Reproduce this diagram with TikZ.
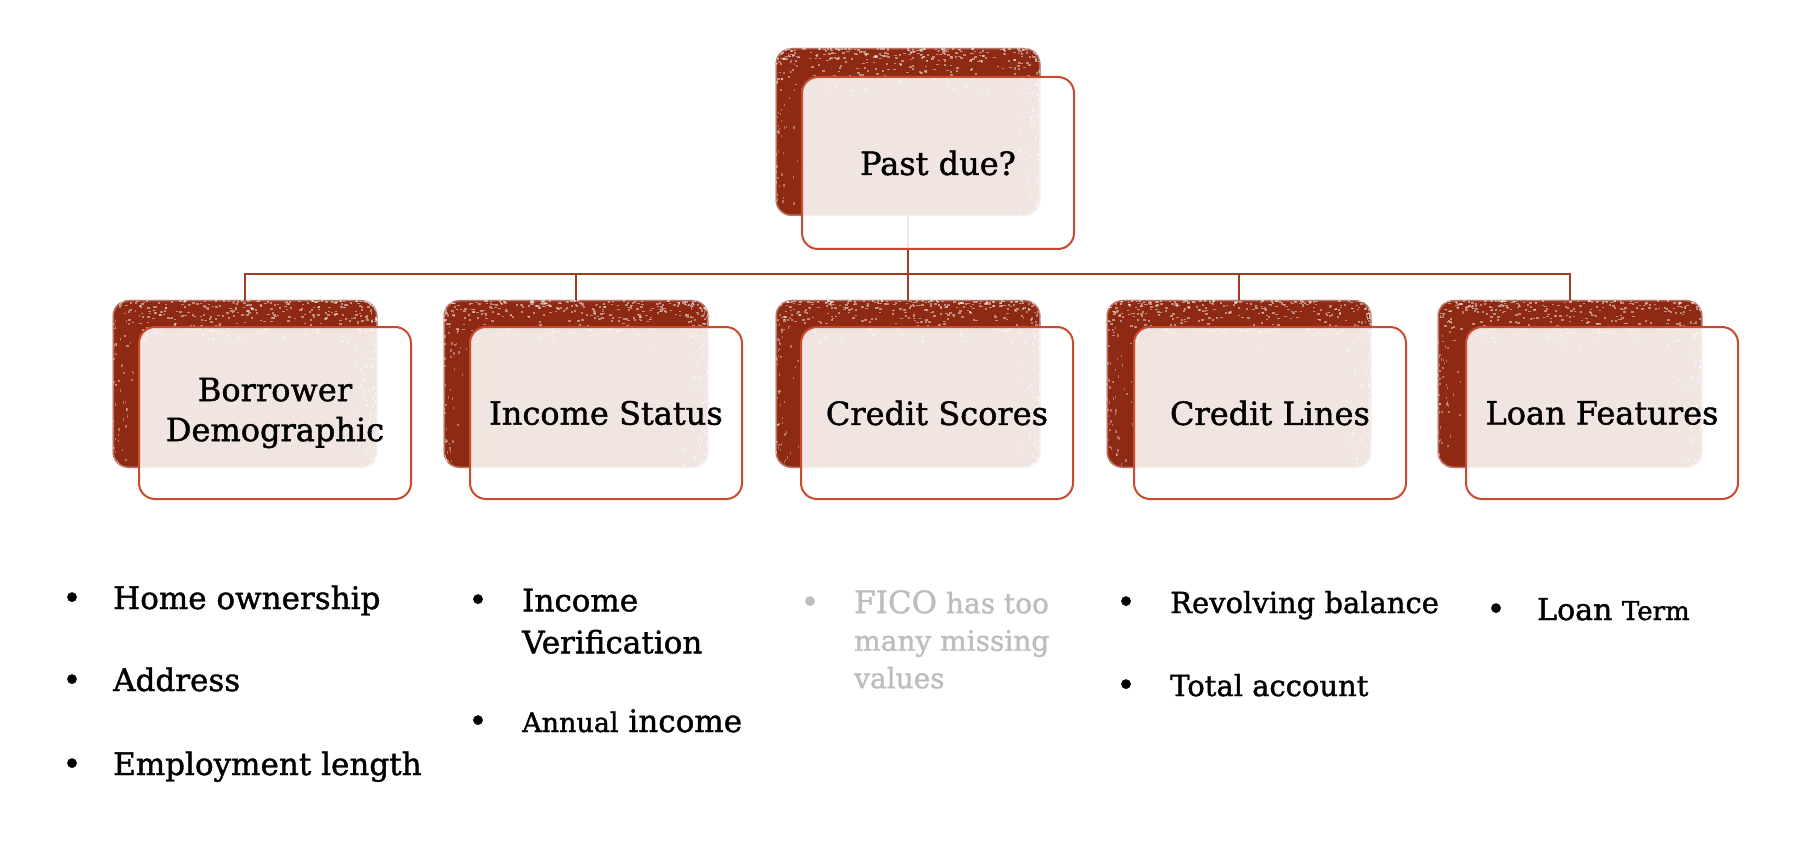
\documentclass[tikz,border=0pt]{standalone}
\usepackage{fontspec}
\setmainfont{DejaVu Serif}[FakeBold=1.3]

\definecolor{rust}{HTML}{8E2A14}
\definecolor{edge}{HTML}{C94A2E}
\definecolor{wire}{HTML}{A33B22}
\definecolor{muted}{HTML}{BDBDBD}

\tikzset{
  backcard/.style={rounded corners=16pt, fill=rust, draw=none, inner sep=0pt,
    minimum width=265pt, minimum height=168pt},
  frontcard/.style={rounded corners=16pt, draw=edge, line width=2pt,
    fill=white, fill opacity=0.88, text opacity=1, inner sep=0pt,
    minimum width=272pt, minimum height=172pt, align=center,
    font=\fontsize{32}{40}\selectfont},
  link/.style={draw=wire, line width=2.7pt},
  bulletdot/.style={anchor=base, inner sep=0pt, font=\fontsize{32}{36}\selectfont},
  itemtext/.style={anchor=base west, inner sep=0pt, align=left,
    font=\fontsize{31}{42}\selectfont},
  itemblock/.style={itemtext, anchor=north west},
}

% worn speckles over a back card whose top-left corner is (#1,#2)
\newcommand{\grunge}[2]{%
  \begin{scope}
    \clip[rounded corners=16pt] (#1,#2) rectangle ++(265,168);
    \foreach \k in {1,...,300}{%
      \pgfmathsetmacro{\gx}{rnd}\pgfmathsetmacro{\gy}{rnd*rnd}%
      \fill[white, opacity=0.45] ({#1+265*\gx},{#2+50*\gy}) rectangle ++(2.4,1.6);
    }
    \foreach \k in {1,...,100}{%
      \pgfmathsetmacro{\gx}{rnd*rnd}\pgfmathsetmacro{\gy}{rnd}%
      \fill[white, opacity=0.4] ({#1+265-30*\gx},{#2+168*\gy}) rectangle ++(1.6,2.6);
    }
    \foreach \k in {1,...,50}{%
      \pgfmathsetmacro{\gx}{rnd*rnd}\pgfmathsetmacro{\gy}{rnd}%
      \fill[white, opacity=0.35] ({#1+28*\gx},{#2+168*\gy}) rectangle ++(1.4,2.4);
    }
    \draw[white, opacity=0.35, line width=3pt, rounded corners=16pt]
      (#1,#2) rectangle ++(265,168);
  \end{scope}}

\begin{document}
\begin{tikzpicture}[x=1pt, y=-1pt]
\useasboundingbox (0,0) rectangle (1820,842);
\pgfmathsetseed{11}

% back cards
\node[backcard] (rootback) at (908,132) {};
\node[backcard] (b1back) at (245,384) {};
\node[backcard] (b2back) at (576,384) {};
\node[backcard] (b3back) at (908,384) {};
\node[backcard] (b4back) at (1239,384) {};
\node[backcard] (b5back) at (1570,384) {};
\grunge{775.5}{48}
\grunge{112.5}{300}
\grunge{443.5}{300}
\grunge{775.5}{300}
\grunge{1106.5}{300}
\grunge{1437.5}{300}

% tree connectors
\coordinate (bus) at (908,274);
\draw[link] (rootback.south) -- (bus);
\draw[link] (bus) -| (b1back.north);
\draw[link] (bus) -| (b2back.north);
\draw[link] (bus) -| (b3back.north);
\draw[link] (bus) -| (b4back.north);
\draw[link] (bus) -| (b5back.north);

% front cards
\node[frontcard] (root) at (938,163) {Past due?};
\node[frontcard] (b1) at (275,413) {Borrower\\Demographic};
\node[frontcard] (b2) at (606,413) {Income Status};
\node[frontcard] (b3) at (937,413) {Credit Scores};
\node[frontcard] (b4) at (1270,413) {Credit Lines};
\node[frontcard] (b5) at (1602,413) {Loan Features};

% borrower demographic
\node[bulletdot] (p11) at (72,609) {•};
\node[itemtext] (t11) at (113,609) {Home ownership};
\node[bulletdot] (p12) at (72,691) {•};
\node[itemtext] (t12) at (113,691) {Address};
\node[bulletdot] (p13) at (72,775) {•};
\node[itemtext] (t13) at (113,775) {Employment length};

% income status
\node[bulletdot] (p21) at (478,611) {•};
\node[itemblock] (t21) at (522,588.5) {Income\\Verification};
\node[bulletdot] (p22) at (478,732) {•};
\node[itemtext] (t22) at (522,732) {{\fontsize{27}{30}\selectfont Annual} income};

% credit scores
\node[bulletdot, text=muted] (p31) at (810,613) {•};
\node[itemblock, text=muted, font=\fontsize{28}{37.5}\selectfont] (t31) at (854,590)
  {{\fontsize{31}{37.5}\selectfont FICO} has too\\many missing\\values};

% credit lines
\node[bulletdot] (p41) at (1126,613) {•};
\node[itemtext, font=\fontsize{29}{40}\selectfont] (t41) at (1170,613) {Revolving balance};
\node[bulletdot] (p42) at (1126,696) {•};
\node[itemtext, font=\fontsize{29}{40}\selectfont] (t42) at (1170,696) {Total account};

% loan features
\node[bulletdot] (p51) at (1496,620) {•};
\node[itemtext, font=\fontsize{30}{42}\selectfont] (t51) at (1537,620) {Loan {\fontsize{26}{30}\selectfont Term}};
\end{tikzpicture}
\end{document}
